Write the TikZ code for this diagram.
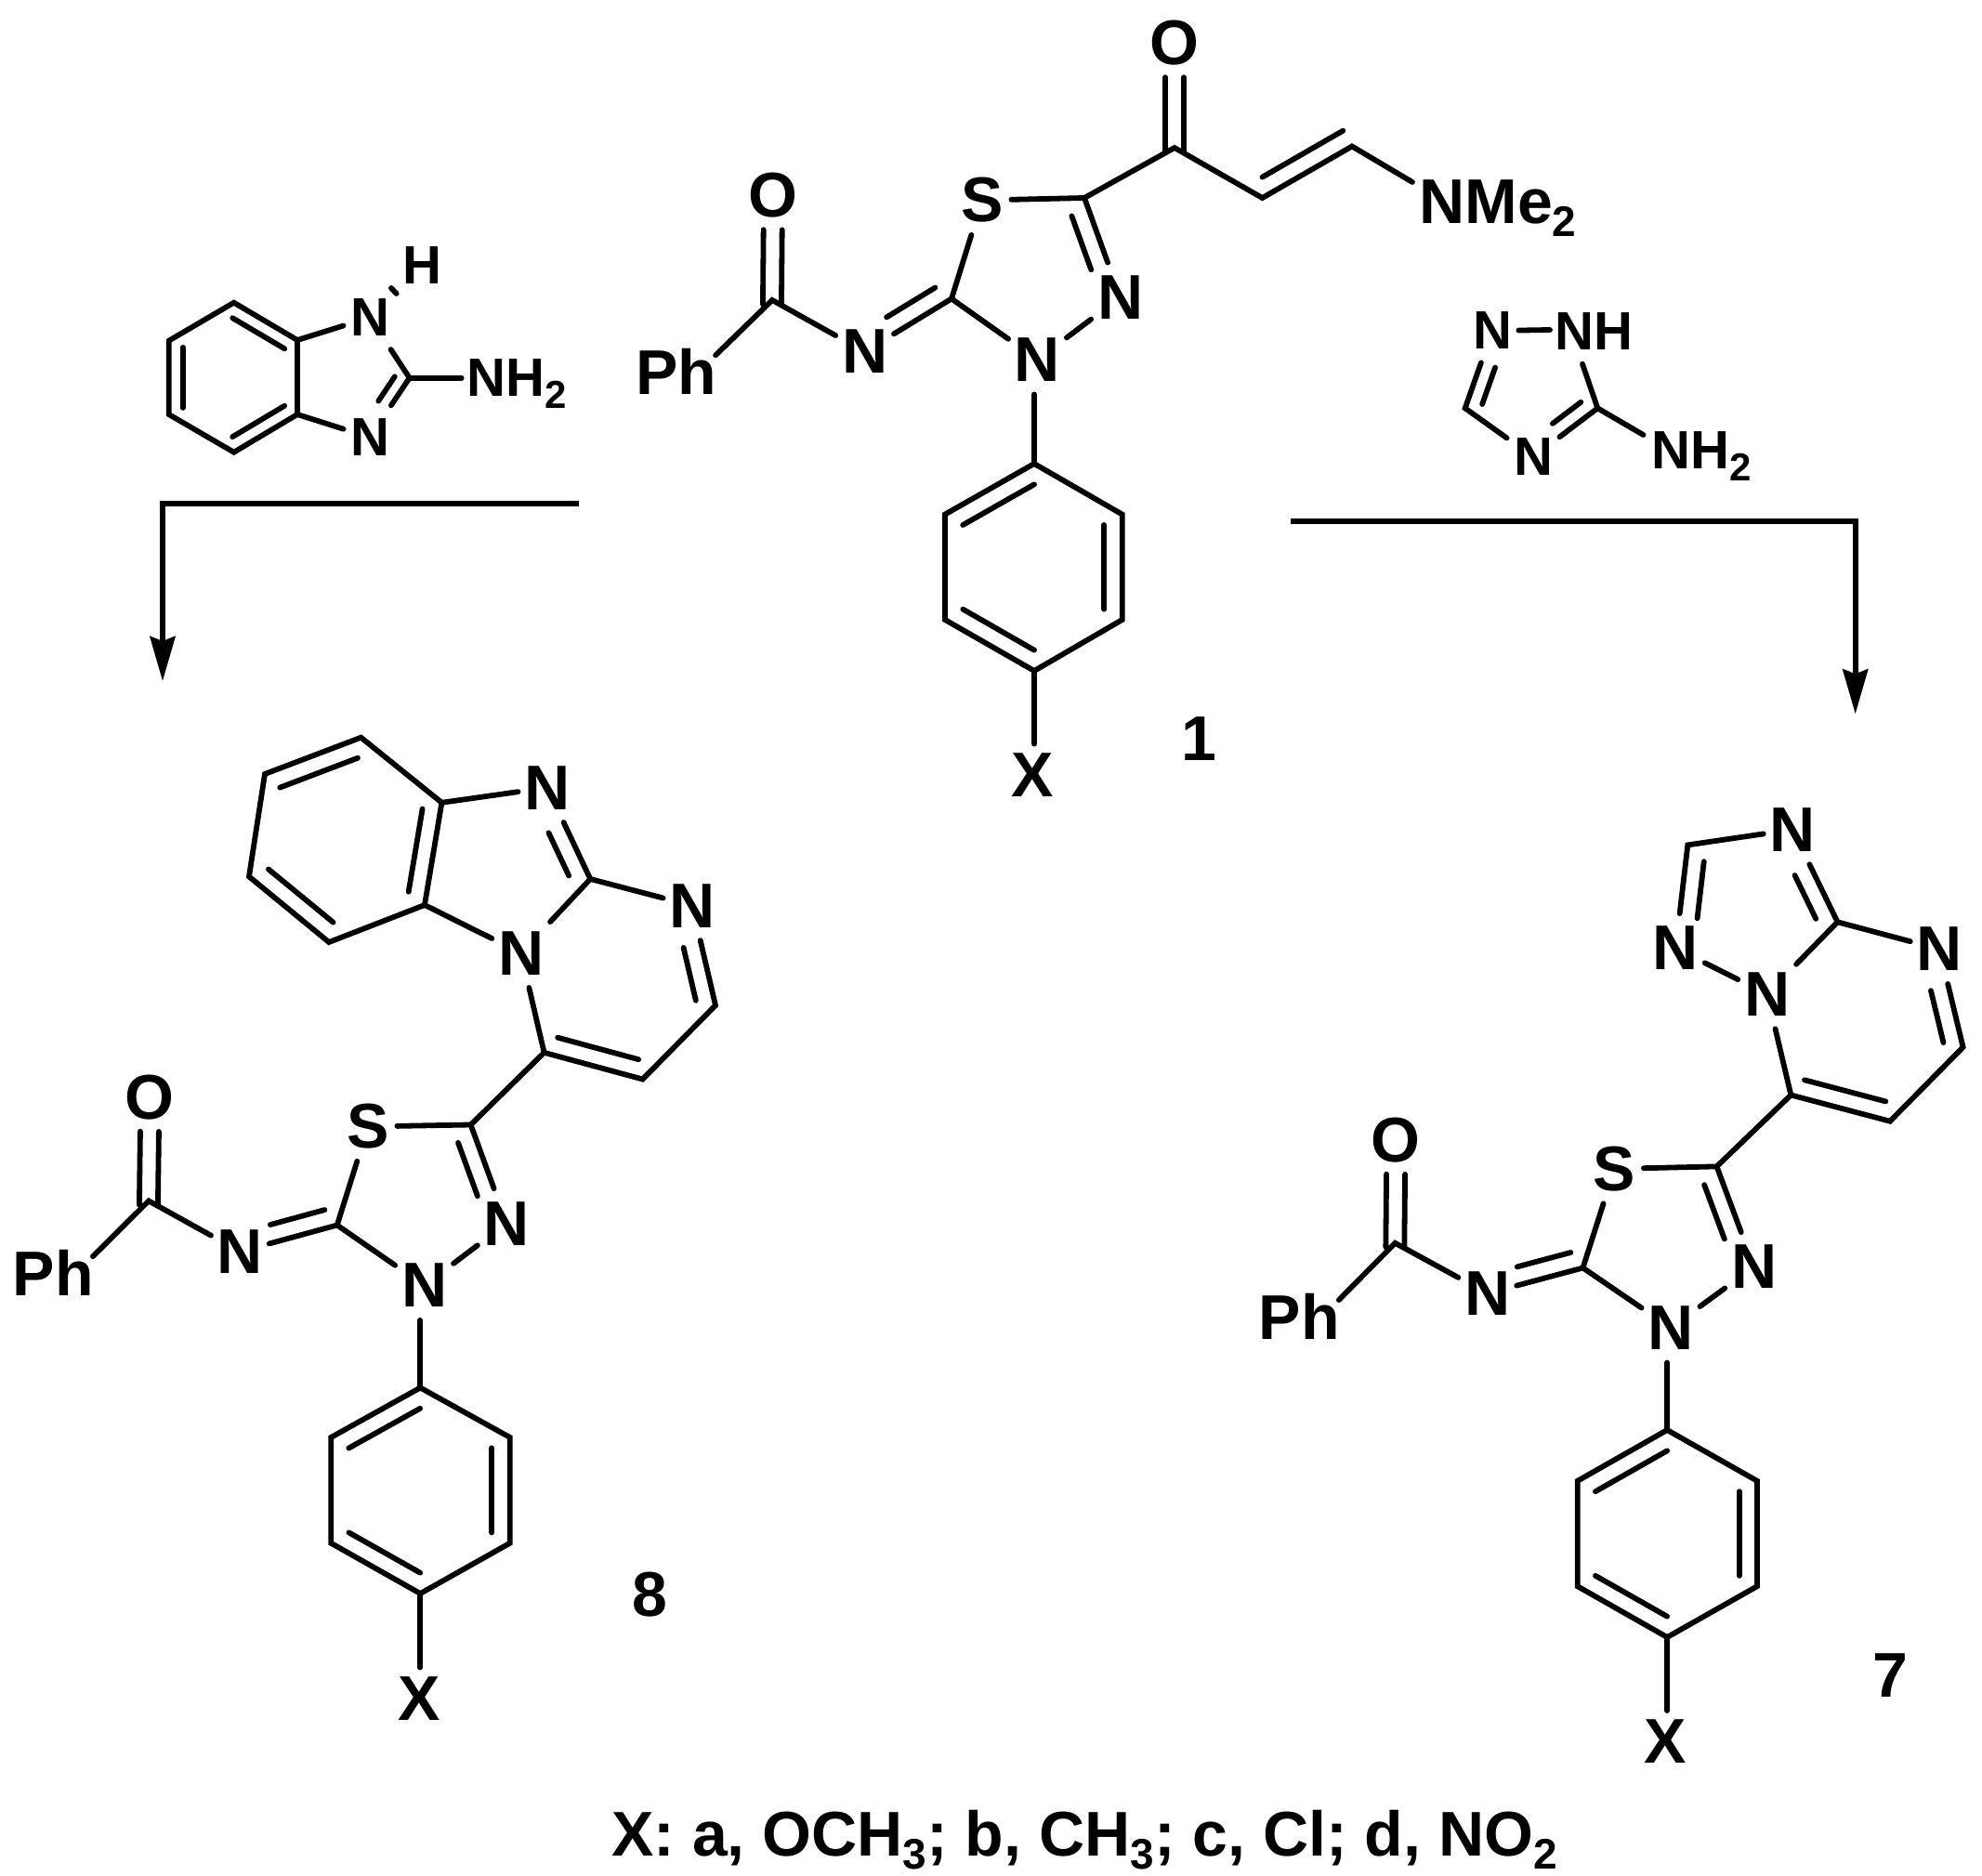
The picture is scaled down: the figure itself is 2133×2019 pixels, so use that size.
\documentclass[tikz,border=0pt]{standalone}
\usepackage{fontspec}
\setmainfont{Liberation Sans}
\usetikzlibrary{calc,arrows.meta}
\newcommand\subL[1]{\raisebox{-7pt}{\fontsize{23}{23}\selectfont #1}}
\newcommand\subS[1]{\raisebox{-6.5pt}{\fontsize{21}{21}\selectfont #1}}
\newcommand\inL[5][9.7pt]{\draw[bond] ($(#2)!#4!(#3)!#1!90:(#3)$) -- ($(#3)!#5!(#2)!#1!-90:(#2)$);}
\newcommand\inR[5][9.7pt]{\draw[bond] ($(#2)!#4!(#3)!#1!-90:(#3)$) -- ($(#3)!#5!(#2)!#1!90:(#2)$);}
\newcommand\symb[3]{\inL[5pt]{#1}{#2}{-0.04}{#3}\inR[5pt]{#1}{#2}{-0.04}{#3}}
% the fragment shared by compounds 1, 8 and 7
\newcommand\frag[1]{%
  \draw[bond] ($(#1Ph.base west)+(86.5,-42)$) -- (#1C) -- (#1N);
  \symb{#1C}{#1O}{0.33}
  \draw[bond] (#1N) -- (#1C2);
  \inR{#1C2}{#1N}{0.08}{0.36}
  \draw[bond] (#1S) -- (#1C2) -- (#1Nt);
  \draw[bond] (#1S) -- (#1C5) -- (#1Nf);
  \inR{#1C5}{#1Nf}{0.12}{0.34}
  \draw[bond] (#1Nt) -- (#1Nf);
  \draw[bond] (#1Ra |- #1Nt.south) -- (#1Ra);
  \draw[bond] (#1Ra) -- (#1Rb) -- (#1Rc) -- (#1Rd) -- (#1Re) -- (#1Rf) -- cycle;
  \inL{#1Ra}{#1Rb}{0.1}{0.1}
  \inL{#1Rc}{#1Rd}{0.1}{0.1}
  \inL{#1Re}{#1Rf}{0.1}{0.1}
  \draw[bond] (#1Rd) -- ($(#1Rd |- #1X.north)+(0,4)$);
}
\tikzset{
  bond/.style={line width=2.9pt,line cap=round,line join=miter,miter limit=6},
  arr/.style={line width=2.9pt,line join=miter,-{Stealth[length=24pt,width=13.5pt,inset=2.5pt]}},
  atom/.style={rectangle,inner sep=0pt,minimum width=31pt,minimum height=37pt,font=\fontsize{34}{34}\selectfont\bfseries},
  satom/.style={rectangle,inner sep=0pt,minimum width=28pt,minimum height=34pt,font=\fontsize{29}{29}\selectfont\bfseries},
  grp/.style={inner sep=0pt,anchor=base west,font=\fontsize{34}{34}\selectfont\bfseries},
  sgrp/.style={inner sep=0pt,anchor=base west,font=\fontsize{29}{29}\selectfont\bfseries},
  lab/.style={inner sep=0pt,font=\fontsize{34}{34}\selectfont\bfseries}
}
\begin{document}
\begin{tikzpicture}[x=0.5pt,y=-0.5pt]
\useasboundingbox (0,0) rectangle (2133,2019);
% ---------- compound 1
\node[atom] (aO) at (832,210) {O};
\node[atom] (aN) at (930.6,378.5) {N};
\node[atom] (aS) at (1057,215.5) {S};
\node[atom] (aNt) at (1116.5,387) {N};
\node[atom] (aNf) at (1205.6,320) {N};
\node[atom] (aX) at (1111,834) {X};
\node[grp] (aPh) at (683.6,424.3) {Ph};
\coordinate (aC) at (831,323);
\coordinate (aC2) at (1024,321.5);
\coordinate (aC5) at (1167,213);
\coordinate (aRa) at (1113,499);
\coordinate (aRb) at (1017,553.6);
\coordinate (aRc) at (1017,667);
\coordinate (aRd) at (1113,722);
\coordinate (aRe) at (1207.7,667);
\coordinate (aRf) at (1207.7,553.6);
\frag{a}
\node[atom] (aOb) at (1264,46) {O};
\node[grp] (nme) at (1527,240) {NMe\subL{2}};
\coordinate (aCO) at (1264,159);
\coordinate (aCH) at (1358.5,213);
\coordinate (aCHb) at (1455,157.5);
\draw[bond] (aC5) -- (aCO) -- (aCH) -- (aCHb) -- ($(nme.base west)+(-7,-44)$);
\symb{aCO}{aOb}{0.33}
\inL{aCH}{aCHb}{0.1}{0.0}
\node[lab] (one) at (1290,795) {1};
% ---------- 2-aminobenzimidazole
\node[satom] (rNa) at (398,341.7) {N};
\node[satom] (rNb) at (398,470.7) {N};
\node[satom] (rH) at (454,286) {H};
\node[sgrp] (rNH) at (502,426.7) {NH\subS{2}};
\coordinate (rA) at (251.7,325.7);
\coordinate (rB) at (181.7,366.7);
\coordinate (rC) at (181.7,446);
\coordinate (rD) at (251.7,486.7);
\coordinate (rE) at (320,446);
\coordinate (rF) at (320,366);
\coordinate (rG) at (440.7,406.7);
\coordinate (rHa) at (421,310);
\coordinate (rHb) at (426.7,316);
\draw[bond] (rA) -- (rB) -- (rC) -- (rD) -- (rE) -- (rF) -- cycle;
\inL[7.5pt]{rF}{rA}{0.09}{0.09}
\inL[7.5pt]{rB}{rC}{0.09}{0.09}
\inL[7.5pt]{rD}{rE}{0.09}{0.09}
\draw[bond] (rF) -- (rNa);
\draw[bond] (rE) -- (rNb);
\draw[bond] (rNa) -- (rG) -- (rNb);
\inR[7pt]{rG}{rNb}{0.1}{0.49}
\draw[bond] (rG) -- ($(rNH.base west)+(-5.3,-20)$);
\draw[bond] (rHa) -- (rHb);
% ---------- left arrow
\coordinate (la) at (623,541.7);
\coordinate (lb) at (175,541.7);
\coordinate (lc) at (175,733);
\draw[arr] (la) -- (lb) -- (lc);
% ---------- aminotriazole
\node[satom] (tNa) at (1606,356) {N};
\node[sgrp] (tNH) at (1673.5,376.7) {NH};
\node[satom] (tNb) at (1650,491.7) {N};
\node[sgrp] (tNHb) at (1777.5,504) {NH\subS{2}};
\coordinate (tC) at (1576.7,439.3);
\coordinate (tD) at (1719.3,439.3);
\draw[bond] (tNa) -- ($(tNH.base west)+(-5.5,-21.7)$);
\draw[bond] (tNa) -- (tC) -- (tNb);
\draw[bond] (tNb) -- (tD) -- ($(tNH.base west)+(29.5,15)$);
\draw[bond] (tD) -- ($(tNHb.base west)+(-9,-36)$);
\inR[8pt]{tC}{tNa}{0.115}{0.41}
\inR[8pt]{tD}{tNb}{0.12}{0.44}
% ---------- right arrow
\coordinate (ra) at (1389,561);
\coordinate (rb) at (1996.7,561);
\coordinate (rc) at (1996.7,768.3);
\draw[arr] (ra) -- (rb) -- (rc);
% ---------- compound 8
\node[atom] (bO) at (161.4,1181) {O};
\node[atom] (bN) at (258.4,1347) {N};
\node[atom] (bS) at (396,1212.4) {S};
\node[atom] (bNt) at (456.6,1383.5) {N};
\node[atom] (bNf) at (545.3,1316.6) {N};
\node[atom] (bX) at (450.8,1828) {X};
\node[grp] (bPh) at (13.4,1394.2) {Ph};
\coordinate (bC) at (160,1292.4);
\coordinate (bC2) at (362.8,1318.5);
\coordinate (bC5) at (506.6,1210.5);
\coordinate (bRa) at (452.3,1493.5);
\coordinate (bRb) at (356.3,1546.9);
\coordinate (bRc) at (356.3,1660.8);
\coordinate (bRd) at (452.3,1715);
\coordinate (bRe) at (548.7,1660.8);
\coordinate (bRf) at (548.7,1546.9);
\frag{b}
\node[atom] (bNa) at (589,847.7) {N};
\node[atom] (bNb) at (560.7,1025.6) {N};
\node[atom] (bNc) at (745,974.7) {N};
\coordinate (bBa) at (388.5,793.7);
\coordinate (bBb) at (285,833);
\coordinate (bBc) at (268,943.4);
\coordinate (bBd) at (354,1014);
\coordinate (bBe) at (457,974);
\coordinate (bBf) at (475.4,863.8);
\coordinate (bCa) at (635.3,946);
\coordinate (bCb) at (770,1082);
\coordinate (bCc) at (691.6,1161.5);
\coordinate (bCd) at (585.6,1132.8);
\draw[bond] (bBa) -- (bBb) -- (bBc) -- (bBd) -- (bBe) -- (bBf) -- cycle;
\inL{bBa}{bBb}{0.1}{0.09}
\inL{bBc}{bBd}{0.1}{0.09}
\inL{bBe}{bBf}{0.1}{0.09}
\draw[bond] (bBf) -- (bNa);
\draw[bond] (bBe) -- (bNb);
\draw[bond] (bNa) -- (bCa) -- (bNc);
\draw[bond] (bCa) -- (bNb);
\inL{bCa}{bNa}{0.12}{0.41}
\draw[bond] (bNc) -- (bCb) -- (bCc) -- (bCd) -- (bNb);
\inL{bCb}{bNc}{0.09}{0.38}
\inL{bCd}{bCc}{0.09}{0.09}
\draw[bond] (bCd) -- (bC5);
\node[lab] (eight) at (699.5,1716.5) {8};
% ---------- compound 7
\node[atom] (cO) at (1502.4,1227.3) {O};
\node[atom] (cN) at (1600.8,1392) {N};
\node[atom] (cS) at (1737.5,1257.9) {S};
\node[atom] (cNt) at (1798,1429) {N};
\node[atom] (cNf) at (1887.7,1363.5) {N};
\node[atom] (cX) at (1792.3,1874.4) {X};
\node[grp] (cPh) at (1354.4,1441) {Ph};
\coordinate (cC) at (1501.4,1337.8);
\coordinate (cC2) at (1703.5,1364.5);
\coordinate (cC5) at (1847.5,1255.4);
\coordinate (cRa) at (1794.2,1539);
\coordinate (cRb) at (1697.7,1593.8);
\coordinate (cRc) at (1697.7,1707.2);
\coordinate (cRd) at (1794.2,1762);
\coordinate (cRe) at (1891,1707.2);
\coordinate (cRf) at (1891,1593.8);
\frag{c}
\node[atom] (cNa) at (1929.2,892.8) {N};
\node[atom] (cNb) at (1803.3,1020.5) {N};
\node[atom] (cNd) at (1901.7,1069.9) {N};
\node[atom] (cNe) at (2087.2,1021.5) {N};
\coordinate (cCa) at (1816.3,909.4);
\coordinate (cCb) at (1977.5,992.3);
\coordinate (cCc) at (2112.6,1127);
\coordinate (cCd) at (2034,1206.7);
\coordinate (cCe) at (1927.4,1178.5);
\draw[bond] (cNa) -- (cCa) -- (cNb);
\inL{cCa}{cNb}{0.14}{0.31}
\draw[bond] (cNb) -- (cNd);
\draw[bond] (cNd) -- (cCb) -- (cNe);
\draw[bond] (cCb) -- (cNa);
\inL{cCb}{cNa}{0.12}{0.41}
\draw[bond] (cNe) -- (cCc) -- (cCd) -- (cCe) -- (cNd);
\inL{cCc}{cNe}{0.09}{0.38}
\inL{cCe}{cCd}{0.09}{0.09}
\draw[bond] (cCe) -- (cC5);
\node[lab] (seven) at (2034.6,1803) {7};
% ---------- footer
\node[lab,anchor=base] (foot) at (1167,1997) {X: a, OCH\subL{3}; b, CH\subL{3}; c, Cl; d, NO\subL{2}};
\end{tikzpicture}
\end{document}
